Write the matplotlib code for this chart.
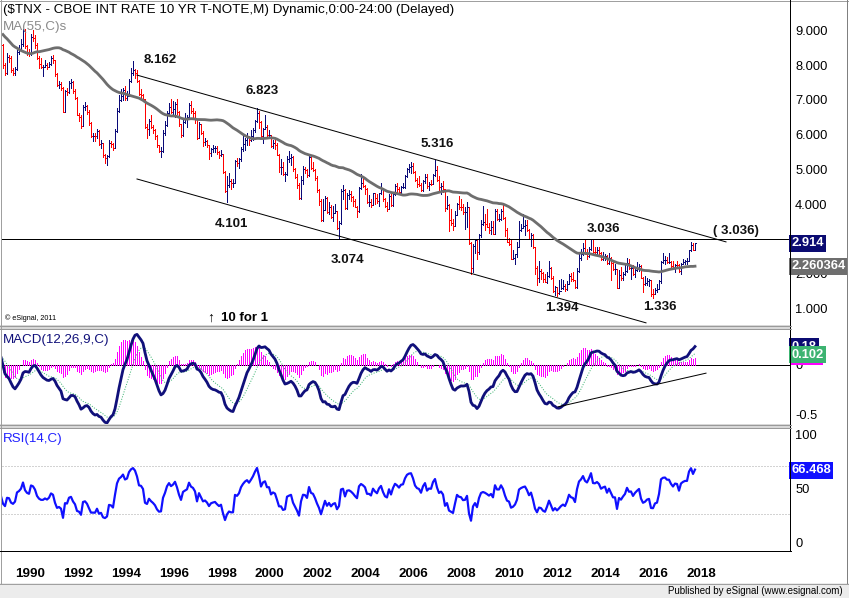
import numpy as np
import pandas as pd
import matplotlib
matplotlib.use('Agg')
import matplotlib.pyplot as plt
from matplotlib.transforms import blended_transform_factory as btf
from matplotlib.patches import Rectangle

# ---------------- data (monthly, $TNX) ----------------
# warm-up closes Dec 1984 .. May 1989 (left of the visible window)
warmup_close = [11.51,
    11.27, 11.87, 11.53, 11.26, 10.24, 10.19, 10.62, 10.42, 10.40, 10.07, 9.69, 9.00,
    9.11, 7.98, 7.35, 7.39, 8.05, 7.27, 7.30, 7.15, 7.56, 7.41, 7.21, 7.23,
    7.13, 7.22, 7.58, 8.42, 8.66, 8.40, 8.67, 9.01, 9.62, 8.90, 8.93, 8.83,
    8.31, 8.39, 8.72, 9.01, 9.37, 8.86, 9.14, 9.31, 8.98, 8.79, 9.13, 9.14,
    9.01, 9.30, 9.30, 9.08, 8.62]

# visible bars Jun 1989 .. Apr 2018
close = [
    8.04, 7.83, 8.29, 8.26, 7.92, 7.82, 7.93,
    8.43, 8.51, 8.65, 9.04, 8.60, 8.43, 8.37, 8.87, 8.82, 8.64, 8.26, 8.08,
    8.00, 8.00, 8.06, 8.00, 8.07, 8.24, 8.18, 7.78, 7.47, 7.50, 7.40, 6.71,
    7.29, 7.26, 7.52, 7.56, 7.29, 7.11, 6.62, 6.56, 6.30, 6.83, 6.86, 6.70,
    6.37, 6.02, 6.02, 6.01, 6.15, 5.78, 5.81, 5.45, 5.38, 5.43, 5.82, 5.79,
    5.66, 6.15, 6.74, 7.04, 7.15, 7.32, 7.11, 7.17, 7.60, 7.81, 7.91, 7.82,
    7.60, 7.22, 7.20, 7.06, 6.28, 6.20, 6.43, 6.28, 6.17, 6.02, 5.74, 5.57,
    5.58, 6.10, 6.33, 6.67, 6.85, 6.71, 6.79, 6.94, 6.70, 6.34, 6.04, 6.42,
    6.49, 6.55, 6.90, 6.72, 6.66, 6.50, 5.95, 6.34, 6.10, 5.83, 5.87, 5.74,
    5.51, 5.62, 5.65, 5.67, 5.55, 5.45, 5.49, 4.98, 4.42, 4.61, 4.71, 4.65,
    4.65, 5.29, 5.24, 5.35, 5.62, 5.78, 5.90, 5.97, 5.88, 6.02, 6.19, 6.44,
    6.67, 6.41, 6.00, 6.21, 6.27, 6.03, 6.03, 5.72, 5.80, 5.75, 5.47, 5.11,
    5.11, 4.90, 4.92, 5.34, 5.38, 5.41, 5.05, 4.83, 4.59, 4.23, 4.75, 5.05,
    5.03, 4.88, 5.40, 5.09, 5.04, 4.80, 4.46, 4.14, 3.59, 3.89, 4.21, 3.82,
    3.96, 3.69, 3.80, 3.84, 3.37, 3.51, 4.41, 4.46, 3.94, 4.30, 4.33, 4.25,
    4.13, 3.97, 3.84, 4.50, 4.65, 4.58, 4.48, 4.12, 4.12, 4.03, 4.36, 4.22,
    4.13, 4.36, 4.48, 4.20, 3.98, 3.92, 4.28, 4.02, 4.33, 4.56, 4.49, 4.39,
    4.53, 4.55, 4.85, 5.05, 5.12, 5.14, 4.98, 4.73, 4.63, 4.60, 4.46, 4.70,
    4.83, 4.56, 4.64, 4.63, 4.89, 5.02, 4.74, 4.53, 4.58, 4.47, 3.94, 4.03,
    3.59, 3.51, 3.43, 3.73, 4.06, 3.97, 3.95, 3.81, 3.82, 3.95, 2.93, 2.21,
    2.84, 3.01, 2.67, 3.16, 3.47, 3.53, 3.48, 3.40, 3.31, 3.39, 3.20, 3.84,
    3.61, 3.61, 3.84, 3.66, 3.29, 2.97, 2.91, 2.47, 2.51, 2.60, 2.80, 3.29,
    3.37, 3.42, 3.45, 3.29, 3.05, 3.16, 2.80, 2.22, 1.92, 2.11, 2.07, 1.88,
    1.80, 1.98, 2.21, 1.92, 1.56, 1.65, 1.49, 1.56, 1.64, 1.69, 1.61, 1.76,
    1.99, 1.88, 1.85, 1.67, 2.13, 2.49, 2.60, 2.78, 2.61, 2.55, 2.75, 3.03,
    2.67, 2.66, 2.72, 2.65, 2.48, 2.53, 2.56, 2.35, 2.49, 2.34, 2.17, 2.17,
    1.64, 2.00, 1.92, 2.03, 2.12, 2.35, 2.20, 2.21, 2.04, 2.14, 2.21, 2.27,
    1.92, 1.74, 1.77, 1.83, 1.85, 1.47, 1.46, 1.58, 1.60, 1.83, 2.37, 2.44,
    2.45, 2.39, 2.39, 2.28, 2.21, 2.30, 2.29, 2.12, 2.33, 2.38, 2.41, 2.41,
    2.72, 2.86, 2.74, 2.914]

high = [
    8.65, 8.12, 8.40, 8.35, 8.30, 7.96, 7.98,
    8.49, 8.64, 8.80, 9.09, 9.08, 8.62, 8.50, 8.95, 9.05, 8.90, 8.67, 8.30,
    8.25, 8.05, 8.20, 8.10, 8.15, 8.32, 8.34, 8.20, 7.82, 7.60, 7.55, 7.42,
    7.34, 7.40, 7.60, 7.65, 7.58, 7.35, 7.13, 6.67, 6.60, 6.90, 6.98, 6.90,
    6.75, 6.40, 6.10, 6.08, 6.22, 6.18, 5.90, 5.82, 5.50, 5.45, 5.88, 5.87,
    5.82, 6.20, 6.80, 7.20, 7.36, 7.40, 7.45, 7.30, 7.66, 7.95, 8.16, 7.93,
    7.90, 7.62, 7.35, 7.22, 7.08, 6.35, 6.50, 6.60, 6.32, 6.20, 6.03, 5.75,
    5.70, 6.18, 6.45, 6.74, 6.95, 7.08, 7.00, 6.98, 7.08, 6.72, 6.36, 6.47,
    6.67, 6.60, 6.95, 7.02, 6.80, 6.72, 6.50, 6.42, 6.36, 6.15, 5.95, 5.90,
    5.75, 5.65, 5.75, 5.72, 5.73, 5.58, 5.60, 5.50, 5.00, 4.85, 4.95, 4.78,
    4.77, 5.33, 5.38, 5.38, 5.70, 6.05, 5.95, 6.10, 6.02, 6.18, 6.23, 6.48,
    6.82, 6.74, 6.45, 6.24, 6.60, 6.33, 6.17, 6.05, 5.90, 5.88, 5.80, 5.48,
    5.35, 5.25, 4.98, 5.42, 5.58, 5.50, 5.42, 5.08, 4.90, 4.65, 4.85, 5.15,
    5.12, 5.05, 5.45, 5.42, 5.25, 5.06, 4.86, 4.48, 4.20, 4.20, 4.27, 4.25,
    4.10, 4.02, 3.98, 4.05, 3.85, 3.56, 4.48, 4.60, 4.48, 4.38, 4.45, 4.42,
    4.27, 4.18, 3.98, 4.55, 4.90, 4.87, 4.60, 4.50, 4.30, 4.18, 4.38, 4.35,
    4.33, 4.38, 4.65, 4.50, 4.22, 4.10, 4.35, 4.37, 4.36, 4.63, 4.66, 4.53,
    4.56, 4.65, 4.88, 5.10, 5.20, 5.25, 5.22, 5.00, 4.80, 4.85, 4.66, 4.73,
    4.92, 4.90, 4.68, 4.75, 4.90, 5.32, 5.15, 4.85, 4.65, 4.70, 4.48, 4.27,
    4.05, 3.90, 3.62, 3.86, 4.08, 4.27, 4.18, 4.05, 3.95, 4.10, 3.95, 2.95,
    2.90, 3.04, 3.05, 3.18, 3.60, 4.00, 3.77, 3.90, 3.50, 3.55, 3.55, 3.90,
    3.90, 3.76, 3.90, 4.01, 3.68, 3.35, 3.07, 3.00, 2.72, 2.62, 2.95, 3.55,
    3.47, 3.77, 3.58, 3.60, 3.33, 3.22, 3.20, 2.82, 2.28, 2.42, 2.18, 2.10,
    2.05, 2.08, 2.40, 2.24, 1.97, 1.70, 1.63, 1.85, 1.88, 1.85, 1.76, 1.83,
    2.05, 2.07, 2.08, 1.86, 2.20, 2.66, 2.75, 2.93, 3.01, 2.75, 2.80, 3.04,
    3.04, 2.80, 2.82, 2.80, 2.67, 2.66, 2.60, 2.58, 2.65, 2.52, 2.41, 2.33,
    2.18, 2.15, 2.25, 2.08, 2.36, 2.49, 2.48, 2.30, 2.30, 2.18, 2.38, 2.32,
    2.30, 1.95, 1.98, 1.92, 1.90, 1.85, 1.60, 1.62, 1.74, 1.86, 2.42, 2.64,
    2.55, 2.53, 2.63, 2.40, 2.42, 2.32, 2.40, 2.33, 2.34, 2.48, 2.43, 2.50,
    2.73, 2.96, 2.94, 2.93]

low = [
    7.96, 7.76, 7.80, 8.15, 7.86, 7.76, 7.76,
    7.90, 8.36, 8.50, 8.60, 8.55, 8.33, 8.30, 8.35, 8.74, 8.55, 8.22, 7.95,
    7.95, 7.72, 7.98, 7.93, 7.98, 8.05, 8.12, 7.73, 7.44, 7.40, 7.33, 6.69,
    6.70, 7.18, 7.25, 7.40, 7.24, 7.08, 6.60, 6.43, 6.24, 6.29, 6.75, 6.63,
    6.33, 5.97, 5.86, 5.86, 5.95, 5.75, 5.67, 5.40, 5.22, 5.17, 5.40, 5.68,
    5.60, 5.65, 6.13, 6.70, 7.00, 7.05, 7.05, 7.05, 7.15, 7.55, 7.76, 7.68,
    7.55, 7.18, 7.08, 7.00, 6.25, 5.95, 6.05, 6.25, 6.08, 5.93, 5.70, 5.55,
    5.40, 5.55, 6.05, 6.30, 6.62, 6.68, 6.65, 6.55, 6.65, 6.30, 5.98, 6.02,
    6.38, 6.28, 6.52, 6.68, 6.55, 6.38, 5.92, 5.95, 6.07, 5.72, 5.75, 5.70,
    5.34, 5.42, 5.55, 5.55, 5.50, 5.38, 5.42, 4.95, 4.40, 4.12, 4.55, 4.48,
    4.53, 4.65, 5.14, 5.10, 5.30, 5.58, 5.60, 5.75, 5.74, 5.85, 5.88, 6.12,
    6.42, 6.25, 5.95, 5.82, 6.20, 5.97, 5.95, 5.68, 5.65, 5.63, 5.45, 4.98,
    4.92, 4.88, 4.72, 4.88, 5.25, 5.18, 5.00, 4.80, 4.52, 4.20, 4.18, 4.62,
    4.93, 4.82, 4.85, 5.05, 5.00, 4.75, 4.40, 4.01, 3.57, 3.56, 3.87, 3.80,
    3.75, 3.65, 3.55, 3.78, 3.33, 3.07, 3.48, 4.20, 3.90, 3.92, 4.20, 4.15,
    3.98, 3.95, 3.68, 3.82, 4.48, 4.55, 4.35, 4.08, 4.00, 3.97, 4.02, 4.06,
    4.08, 3.99, 4.35, 4.15, 3.96, 3.85, 3.92, 4.00, 4.00, 4.30, 4.40, 4.35,
    4.33, 4.50, 4.52, 4.83, 4.98, 4.95, 4.95, 4.70, 4.55, 4.58, 4.43, 4.43,
    4.66, 4.50, 4.45, 4.60, 4.62, 4.87, 4.70, 4.40, 4.33, 4.40, 3.85, 3.90,
    3.28, 3.44, 3.30, 3.42, 3.72, 3.90, 3.87, 3.76, 3.33, 3.40, 2.90, 2.04,
    2.10, 2.65, 2.48, 2.62, 3.10, 3.45, 3.30, 3.38, 3.23, 3.18, 3.18, 3.20,
    3.58, 3.55, 3.58, 3.63, 3.12, 2.95, 2.88, 2.46, 2.46, 2.33, 2.52, 2.82,
    3.28, 3.37, 3.17, 3.27, 3.03, 2.85, 2.77, 2.03, 1.72, 1.80, 1.90, 1.80,
    1.80, 1.79, 1.95, 1.90, 1.53, 1.44, 1.39, 1.45, 1.59, 1.60, 1.56, 1.58,
    1.76, 1.83, 1.82, 1.62, 1.63, 2.09, 2.45, 2.57, 2.61, 2.48, 2.53, 2.72,
    2.63, 2.58, 2.58, 2.58, 2.43, 2.45, 2.44, 2.33, 2.33, 1.86, 2.15, 2.05,
    1.64, 1.64, 1.86, 1.85, 2.02, 2.08, 2.18, 1.90, 2.02, 1.95, 2.13, 2.12,
    1.92, 1.53, 1.72, 1.71, 1.70, 1.41, 1.34, 1.49, 1.52, 1.59, 1.77, 2.35,
    2.32, 2.34, 2.34, 2.17, 2.18, 2.10, 2.22, 2.08, 2.03, 2.31, 2.31, 2.33,
    2.40, 2.70, 2.73, 2.73]

years = list(range(1990, 2020, 2))
price_ticks = [1, 2, 4, 5, 6, 7, 8, 9]      # 3.000 is hidden behind the last-price box
hline_level = 3.036
# (month index from Jan 1990, value) of the drawn channel / trend lines
upper_channel = [(60, 7.76), (354.5, 2.96)]
lower_channel = [(60, 4.77), (314.5, 0.63)]
macd_trend = [(270.5, -0.41), (344.5, -0.08)]
# point labels: (text, month index, value)
point_labels = [("8.162", 71.5, 8.19), ("6.823", 122.5, 7.30), ("5.316", 210, 5.78),
                ("4.101", 107, 3.475), ("3.074", 165, 2.44), ("3.036", 293, 3.33),
                ("1.394", 272.5, 1.06), ("1.336", 321.5, 1.09)]
last_ma_label = 2.260364
macd_last_label = 0.18
signal_last_label = 0.102
rsi_last_label = 66.468

# ---------------- derived series ----------------
all_close = np.array(warmup_close + close)
n_warm = len(warmup_close)
idx_all = np.arange(len(all_close)) - 61          # month index from Jan 1990
idx = idx_all[n_warm:]
c = np.array(close); h = np.array(high); l = np.array(low)
o = all_close[n_warm - 1:-1]
s = pd.Series(all_close)
ma = s.rolling(55).mean().values
ema12 = s.ewm(span=12, adjust=False).mean()
ema26 = s.ewm(span=26, adjust=False).mean()
macd = (ema12 - ema26)
signal = macd.ewm(span=9, adjust=False).mean()
hist = (macd - signal).values
macd = macd.values; signal = signal.values
d = s.diff()
gain = d.clip(lower=0).ewm(alpha=1/14, adjust=False).mean()
loss = (-d.clip(upper=0)).ewm(alpha=1/14, adjust=False).mean()
rsi = (100 - 100 / (1 + gain / loss)).values

# ---------------- figure ----------------
W, H = 849, 598
plt.rcParams['font.family'] = ['Liberation Sans', 'DejaVu Sans']
fig = plt.figure(figsize=(W / 100, H / 100), dpi=100)
fig.patch.set_facecolor('white')
PX = 0.72

def rect(x0, y0, x1, y1):
    return [x0 / W, 1 - y1 / H, (x1 - x0) / W, (y1 - y0) / H]

XL = (-7.5, 386.5)
ax_p = fig.add_axes(rect(2, 0, 790, 325))
ax_m = fig.add_axes(rect(2, 330, 790, 425))
ax_r = fig.add_axes(rect(2, 428, 790, 550))
ax_p.set_ylim(0.568, 9.921)
ax_m.set_ylim(-0.588, 0.343)
ax_r.set_ylim(0, 101.67)
for a in (ax_p, ax_m, ax_r):
    a.set_xlim(*XL)
    a.axis('off')

navy = '#0a0a78'
red = '#ff0000'
# price bars
up = c >= o
cols = np.where(up, navy, red)
ax_p.vlines(idx, l, h, colors=cols, lw=1.0 * PX, antialiased=False)
ax_p.hlines(o, idx - 0.7, idx, colors=cols, lw=1.0 * PX, antialiased=False)
ax_p.hlines(c, idx, idx + 0.7, colors=cols, lw=1.0 * PX, antialiased=False)
ax_p.plot(idx_all, ma, color='#6e6e6e', lw=2.8 * PX, zorder=3)
ax_p.axhline(hline_level, color='black', lw=1.0 * PX)
for ln in (upper_channel, lower_channel):
    ax_p.plot([ln[0][0], ln[1][0]], [ln[0][1], ln[1][1]], color='black', lw=1.0 * PX)
for t, xi, v in point_labels:
    ax_p.text(xi, v, t, ha='center', va='center', fontsize=9.5, fontweight='bold', color='#111111')
ax_p.text(359.5, 3.27, "( 3.036)", ha='center', va='center', fontsize=9.5, fontweight='bold', color='#111111')

tr_p = btf(ax_p.transAxes, ax_p.transData)
for v in price_ticks:
    ax_p.text(1.0065, v, f"{v:.3f}", transform=tr_p, ha='left', va='center', fontsize=9.3, clip_on=False)
ax_p.text(1.0015, c[-1], f"{c[-1]:.3f}", transform=tr_p, ha='left', va='center', fontsize=9.3,
          fontweight='bold', color='white', clip_on=False, zorder=10,
          bbox=dict(boxstyle='square,pad=0.18', fc='#0b0b72', ec='none'))
ax_p.text(1.0015, last_ma_label, f"{last_ma_label}", transform=tr_p, ha='left', va='center', fontsize=9.3,
          fontweight='bold', color='white', clip_on=False, zorder=10,
          bbox=dict(boxstyle='square,pad=0.18', fc='#6e6e6e', ec='none'))

# MACD
ax_m.axhline(0, color='black', lw=1.0 * PX, zorder=1)
ax_m.vlines(idx_all, 0, hist, colors='#ff00ff', lw=1.0 * PX, zorder=2, antialiased=False)
ax_m.plot(idx_all, signal, color='#3cb371', lw=1.0 * PX, ls=(0, (1, 1.6)), zorder=3)
ax_m.plot(idx_all, macd, color='#10107a', lw=2.8 * PX, zorder=4)
ax_m.plot([macd_trend[0][0], macd_trend[1][0]], [macd_trend[0][1], macd_trend[1][1]],
          color='black', lw=1.0 * PX, zorder=5)
tr_m = btf(ax_m.transAxes, ax_m.transData)
ax_m.text(1.0065, -0.012, "0", transform=tr_m, ha='left', va='center', fontsize=9.3, clip_on=False)
ax_m.text(1.0065, -0.5, "-0.5", transform=tr_m, ha='left', va='center', fontsize=9.3, clip_on=False)
ax_m.text(1.0015, macd_last_label, f"{macd_last_label}", transform=tr_m, ha='left', va='center', fontsize=9.3,
          fontweight='bold', color='white', clip_on=False, zorder=10,
          bbox=dict(boxstyle='square,pad=0.18', fc='#0b0b72', ec='none'))
ax_m.text(1.0015, signal_last_label, f"{signal_last_label}", transform=tr_m, ha='left', va='center', fontsize=9.3,
          fontweight='bold', color='white', clip_on=False, zorder=11,
          bbox=dict(boxstyle='square,pad=0.18', fc='#3cb371', ec='none'))

# RSI
for lv in (70, 30):
    ax_r.axhline(lv, color='#a8a8a8', lw=1.0 * PX, ls=(0, (1, 2)))
ax_r.plot(idx_all, rsi, color='#1010ff', lw=2.2 * PX)
tr_r = btf(ax_r.transAxes, ax_r.transData)
ax_r.text(1.0065, 100, "100", transform=tr_r, ha='left', va='top', fontsize=9.3, clip_on=False)
ax_r.text(1.0065, 50, "50", transform=tr_r, ha='left', va='center', fontsize=9.3, clip_on=False)
ax_r.text(1.0065, 0, "0", transform=tr_r, ha='left', va='bottom', fontsize=9.3, clip_on=False)
ax_r.text(1.0015, rsi_last_label, f"{rsi_last_label}", transform=tr_r, ha='left', va='center', fontsize=9.3,
          fontweight='bold', color='white', clip_on=False, zorder=10,
          bbox=dict(boxstyle='square,pad=0.18', fc='#1010ff', ec='none'))
tr_x = btf(ax_r.transData, ax_r.transAxes)
for y in years:
    ax_r.text((y - 1990) * 12 - 1, -0.197, str(y), transform=tr_x, ha='left', va='center',
              fontsize=9.6, fontweight='bold', clip_on=False)

# ---------------- frame / overlay ----------------
ov = fig.add_axes([0, 0, 1, 1], zorder=20)
ov.set_xlim(0, W); ov.set_ylim(H, 0); ov.axis('off'); ov.patch.set_alpha(0)
ov.plot([0, W], [0.5, 0.5], color='#a0a0a0', lw=1 * PX)
ov.plot([0.5, 0.5], [0, 583], color='#a0a0a0', lw=1 * PX)
ov.plot([847.5, 847.5], [0, 583], color='#808080', lw=1 * PX)
ov.plot([790.5, 790.5], [0, 550.5], color='black', lw=1 * PX)
for y0 in (325, 424):
    ov.add_patch(Rectangle((0, y0), 791, 4, fc='#d8d8d8', ec='none'))
    ov.plot([0, 791], [y0 + 0.5, y0 + 0.5], color='#9a9a9a', lw=1 * PX)
    ov.plot([0, 791], [y0 + 3.5, y0 + 3.5], color='#9a9a9a', lw=1 * PX)
ov.plot([0, 791], [550.5, 550.5], color='black', lw=1 * PX)
ov.add_patch(Rectangle((0, 583), W, 15, fc='#ececec', ec='none'))
ov.plot([0, W], [583.5, 583.5], color='#a0a0a0', lw=1 * PX)
ov.add_patch(Rectangle((791, 362.5), 32, 2.5, fc='#ff00ff', ec='none'))

ov.text(3, 10, "($TNX - CBOE INT RATE 10 YR T-NOTE,M) Dynamic,0:00-24:00 (Delayed)", ha='left',
        va='center', fontsize=9.6, color='black')
ov.text(3, 27, "MA(55,C)s", ha='left', va='center', fontsize=9.6, color='#8a8a8a')
ov.text(3, 340, "MACD(12,26,9,C)", ha='left', va='center', fontsize=9.6, color='#10107a')
ov.text(3, 439, "RSI(14,C)", ha='left', va='center', fontsize=9.6, color='#2020ff')
ov.text(5, 318, "\u00a9 eSignal, 2011", ha='left', va='center', fontsize=5.2, color='black')
ov.text(207, 318, "\u2191", ha='left', va='center', fontsize=10, color='black')
ov.text(221, 318, "10 for 1", ha='left', va='center', fontsize=9.5, fontweight='bold', color='black')
ov.text(843, 591, "Published by eSignal (www.esignal.com)", ha='right', va='center', fontsize=7.0,
        color='black')

fig.savefig('out.png', dpi=100, facecolor='white')
